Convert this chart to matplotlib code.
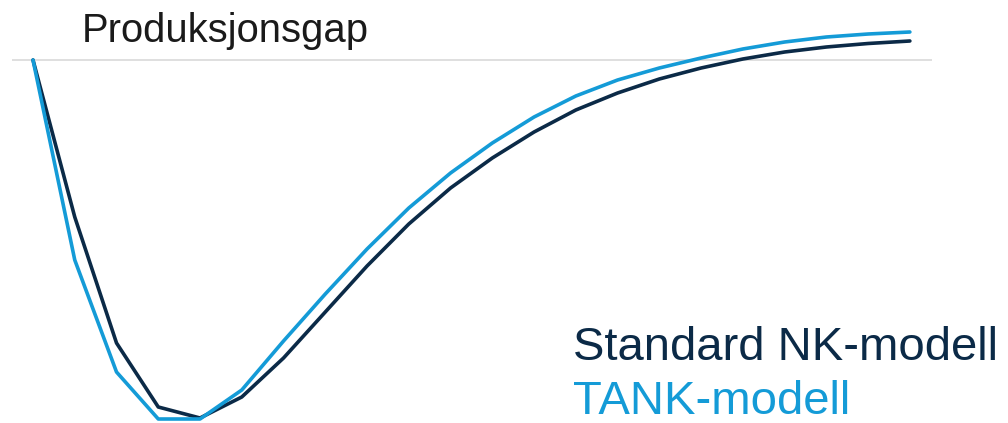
import matplotlib
matplotlib.use("Agg")
import matplotlib.pyplot as plt

# quarters after the shock (arbitrary units)
quarters = list(range(22))
nk_gap = [0, -1.57, -2.83, -3.47, -3.58, -3.37, -2.98, -2.52, -2.06, -1.64, -1.28,
          -0.98, -0.72, -0.50, -0.33, -0.19, -0.08, 0.01, 0.08, 0.13, 0.165, 0.19]
tank_gap = [0, -2.00, -3.12, -3.59, -3.59, -3.30, -2.81, -2.34, -1.89, -1.48, -1.13,
            -0.83, -0.57, -0.36, -0.20, -0.08, 0.02, 0.11, 0.18, 0.23, 0.26, 0.28]

title = "Produksjonsgap"
nk_label = "Standard NK-modell"
tank_label = "TANK-modell"

nk_color = "#0b2a47"
tank_color = "#149bd7"

plt.rcParams['font.family'] = ['Liberation Sans', 'DejaVu Sans']

W, H = 1008, 423
fig = plt.figure(figsize=(W / 100, H / 100), dpi=100)
ax = fig.add_axes([12 / W, 0, 920 / W, 403 / H])

ax.axhline(0, color="#d9d9d9", lw=1.2, zorder=1)
ax.plot(quarters, nk_gap, color=nk_color, lw=2.6, solid_capstyle="round", clip_on=False, zorder=2)
ax.plot(quarters, tank_gap, color=tank_color, lw=2.6, solid_capstyle="round", clip_on=False, zorder=3)

ax.set_xlim(-0.503, 21.53)
ax.set_ylim(-3.63, 0.40)
ax.axis("off")

fig.text(82 / W, 1 - 42 / H, title, fontsize=28.8, color="#1a1a1a", va="baseline", ha="left")
fig.text(573 / W, 1 - 360 / H, nk_label, fontsize=34, color=nk_color, va="baseline", ha="left")
fig.text(573 / W, 1 - 414 / H, tank_label, fontsize=34, color=tank_color, va="baseline", ha="left")

fig.savefig("out.png", dpi=100, facecolor="white")
